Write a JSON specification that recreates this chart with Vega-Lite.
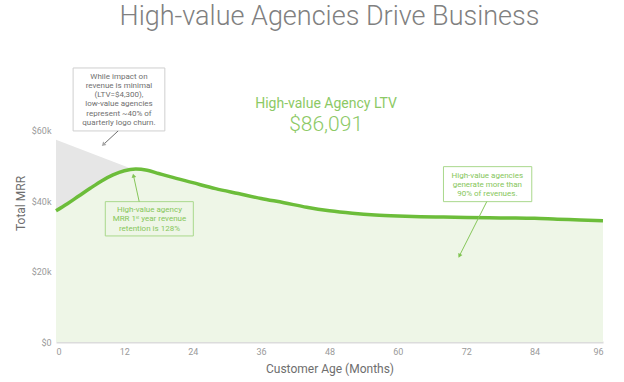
{
  "$schema": "https://vega.github.io/schema/vega-lite/v6.json",
  "width": 547,
  "height": 299,
  "autosize": {"type": "none"},
  "padding": {"left": 56, "top": 43, "right": 21, "bottom": 40},
  "background": "white",
  "config": {"view": {"stroke": null}, "font": "Roboto"},
  "title": {
    "text": "High-value Agencies Drive Business",
    "font": "Roboto Light, Roboto",
    "fontWeight": 300,
    "fontSize": 27,
    "color": "#808080",
    "anchor": "middle",
    "frame": "group",
    "offset": 12
  },
  "datasets": {
    "mrr": [
      {"month": 0, "mrr": 37300},
      {"month": 2, "mrr": 39300},
      {"month": 4, "mrr": 41500},
      {"month": 6, "mrr": 43700},
      {"month": 8, "mrr": 45800},
      {"month": 10, "mrr": 47500},
      {"month": 12, "mrr": 48700},
      {"month": 14, "mrr": 49150},
      {"month": 16, "mrr": 48800},
      {"month": 18, "mrr": 47900},
      {"month": 20, "mrr": 47000},
      {"month": 24, "mrr": 45300},
      {"month": 28, "mrr": 43600},
      {"month": 32, "mrr": 42200},
      {"month": 36, "mrr": 40800},
      {"month": 40, "mrr": 39600},
      {"month": 44, "mrr": 38300},
      {"month": 48, "mrr": 37300},
      {"month": 52, "mrr": 36600},
      {"month": 56, "mrr": 36100},
      {"month": 60, "mrr": 35800},
      {"month": 64, "mrr": 35600},
      {"month": 68, "mrr": 35500},
      {"month": 72, "mrr": 35400},
      {"month": 76, "mrr": 35300},
      {"month": 80, "mrr": 35250},
      {"month": 84, "mrr": 35150},
      {"month": 88, "mrr": 34900},
      {"month": 92, "mrr": 34700},
      {"month": 96, "mrr": 34450}
    ],
    "lowvalue": [
      {"month": 0, "mrr": 57500},
      {"month": 13.5, "mrr": 49100}
    ],
    "boxes": [
      {"id": "churn", "m1": 3.0, "m2": 19.1, "v1": 77900, "v2": 60000, "kind": "gray"},
      {"id": "retention", "m1": 8.65, "m2": 24.1, "v1": 39900, "v2": 30150, "kind": "green"},
      {"id": "share", "m1": 68.0, "m2": 83.5, "v1": 49850, "v2": 39900, "kind": "green"}
    ],
    "notes": [
      {"id": "churn", "month": 11.05, "value": 75450, "kind": "gray", "text": "While impact on\nrevenue is minimal\n(LTV=$4,300),\nlow-value agencies\nrepresent ~40% of\nquarterly logo churn."},
      {"id": "retention", "month": 16.4, "value": 37500, "kind": "green", "text": "High-value agency\nMRR 1ˢᵗ year revenue\nretention is 128%"},
      {"id": "share", "month": 75.7, "value": 47250, "kind": "green", "text": "High-value agencies\ngenerate more than\n90% of revenues."}
    ],
    "arrows": [
      {"id": "churn", "month": 10.9, "value": 60000, "month2": 8.3, "value2": 56100, "kind": "gray"},
      {"id": "retention", "month": 14.6, "value": 39900, "month2": 13.6, "value2": 47300, "kind": "green"},
      {"id": "share", "month": 75.6, "value": 39900, "month2": 70.8, "value2": 24500, "kind": "green"}
    ],
    "headline": [
      {"month": 47.4, "value": 67600, "label": "High-value Agency LTV", "role": "caption"},
      {"month": 47.4, "value": 61700, "label": "$86,091", "role": "amount"}
    ]
  },
  "layer": [
    {
      "data": {"name": "lowvalue"},
      "mark": {"type": "area", "color": "#e6e6e6", "opacity": 1},
      "encoding": {
        "x": {"field": "month", "type": "quantitative", "scale": {"domain": [0, 96], "nice": false},
          "axis": {
            "values": [0, 12, 24, 36, 48, 60, 72, 84, 96],
            "grid": false, "ticks": false,
            "domainColor": "#dcdcdc", "domainWidth": 2,
            "labelColor": "#9a9a9a", "labelFontSize": 9, "labelPadding": 5, "labelFont": "Roboto",
            "title": "Customer Age (Months)",
            "titleColor": "#6e6e6e", "titleFontSize": 12, "titleFontWeight": 400, "titleFont": "Roboto",
            "titleBaseline": "middle", "titleY": 26
          }},
        "y": {"field": "mrr", "type": "quantitative", "scale": {"domain": [0, 85000], "nice": false},
          "axis": {
            "values": [0, 20000, 40000, 60000],
            "labelExpr": "datum.value == 0 ? '$0' : '$' + (datum.value / 1000) + 'k'",
            "grid": false, "ticks": false, "domain": false,
            "labelColor": "#9a9a9a", "labelFontSize": 9, "labelPadding": 5, "labelFont": "Roboto",
            "title": "Total MRR",
            "titleColor": "#6e6e6e", "titleFontSize": 12, "titleFontWeight": 400, "titleFont": "Roboto",
            "titleBaseline": "middle", "titleAlign": "center", "titleX": -36, "titleY": 160
          }}
      }
    },
    {
      "data": {"name": "mrr"},
      "mark": {"type": "area", "color": "#eef6e7", "opacity": 1, "interpolate": "monotone"},
      "encoding": {
        "x": {"field": "month", "type": "quantitative"},
        "y": {"field": "mrr", "type": "quantitative"}
      }
    },
    {
      "data": {"name": "mrr"},
      "mark": {"type": "line", "color": "#6cbd3a", "strokeWidth": 3.5, "interpolate": "monotone"},
      "encoding": {
        "x": {"field": "month", "type": "quantitative"},
        "y": {"field": "mrr", "type": "quantitative"}
      }
    },
    {
      "data": {"name": "boxes"},
      "mark": {"type": "rect", "fillOpacity": 0, "strokeWidth": 1},
      "encoding": {
        "x": {"field": "m1", "type": "quantitative"},
        "x2": {"field": "m2"},
        "y": {"field": "v1", "type": "quantitative"},
        "y2": {"field": "v2"},
        "stroke": {"field": "kind", "type": "nominal", "scale": {"domain": ["gray", "green"], "range": ["#cfcfcf", "#a9d88c"]}, "legend": null}
      }
    },
    {
      "data": {"name": "notes"},
      "mark": {"type": "text", "fontSize": 8, "lineBreak": "\n", "lineHeight": 9.3, "align": "center", "baseline": "middle", "font": "Roboto"},
      "encoding": {
        "x": {"field": "month", "type": "quantitative"},
        "y": {"field": "value", "type": "quantitative"},
        "text": {"field": "text"},
        "color": {"field": "kind", "type": "nominal", "scale": {"domain": ["gray", "green"], "range": ["#6f6f6f", "#86c65a"]}, "legend": null}
      }
    },
    {
      "data": {"name": "arrows"},
      "mark": {"type": "rule", "strokeWidth": 1},
      "encoding": {
        "x": {"field": "month", "type": "quantitative"},
        "y": {"field": "value", "type": "quantitative"},
        "x2": {"field": "month2"},
        "y2": {"field": "value2"},
        "color": {"field": "kind", "type": "nominal", "scale": {"domain": ["gray", "green"], "range": ["#a8a8a8", "#7fc451"]}, "legend": null}
      }
    },
    {
      "data": {"name": "arrows"},
      "transform": [{"filter": "datum.id == 'churn'"}],
      "mark": {"type": "point", "shape": "triangle-up", "filled": true, "size": 22, "angle": 227, "color": "#a8a8a8", "opacity": 1},
      "encoding": {
        "x": {"field": "month2", "type": "quantitative"},
        "y": {"field": "value2", "type": "quantitative"}
      }
    },
    {
      "data": {"name": "arrows"},
      "transform": [{"filter": "datum.id == 'retention'"}],
      "mark": {"type": "point", "shape": "triangle-up", "filled": true, "size": 22, "angle": 347, "color": "#7fc451", "opacity": 1},
      "encoding": {
        "x": {"field": "month2", "type": "quantitative"},
        "y": {"field": "value2", "type": "quantitative"}
      }
    },
    {
      "data": {"name": "arrows"},
      "transform": [{"filter": "datum.id == 'share'"}],
      "mark": {"type": "point", "shape": "triangle-up", "filled": true, "size": 22, "angle": 207, "color": "#7fc451", "opacity": 1},
      "encoding": {
        "x": {"field": "month2", "type": "quantitative"},
        "y": {"field": "value2", "type": "quantitative"}
      }
    },
    {
      "data": {"name": "headline"},
      "transform": [{"filter": "datum.role == 'caption'"}],
      "mark": {"type": "text", "fontSize": 14, "font": "Roboto", "fontWeight": 400, "color": "#8cc965", "align": "center", "baseline": "middle"},
      "encoding": {
        "x": {"field": "month", "type": "quantitative"},
        "y": {"field": "value", "type": "quantitative"},
        "text": {"field": "label"}
      }
    },
    {
      "data": {"name": "headline"},
      "transform": [{"filter": "datum.role == 'amount'"}],
      "mark": {"type": "text", "fontSize": 21, "font": "Roboto", "fontWeight": 300, "color": "#8cc965", "align": "center", "baseline": "middle"},
      "encoding": {
        "x": {"field": "month", "type": "quantitative"},
        "y": {"field": "value", "type": "quantitative"},
        "text": {"field": "label"}
      }
    }
  ]
}
